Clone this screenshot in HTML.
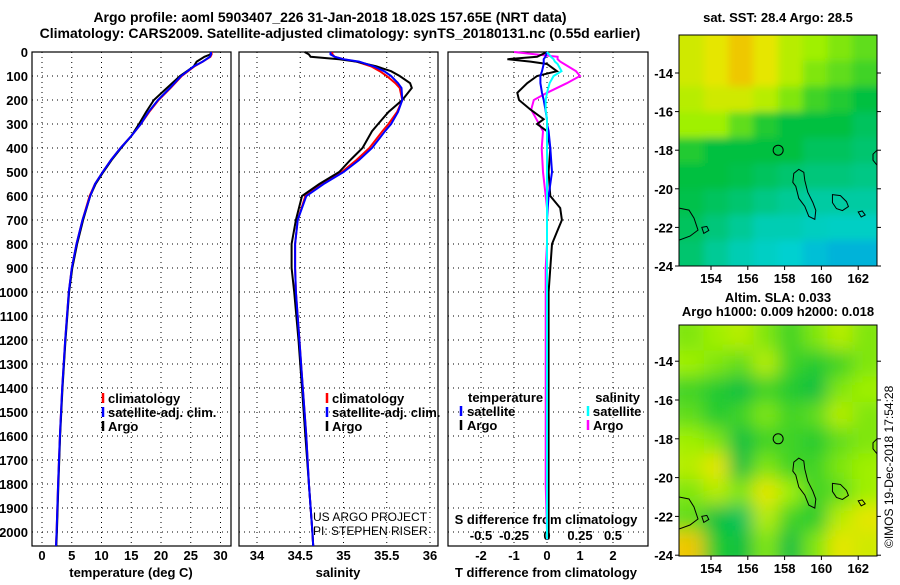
<!DOCTYPE html>
<html><head><meta charset="utf-8"><style>
body{margin:0;background:#fff}
svg text{font-family:"Liberation Sans",sans-serif;font-weight:bold;font-size:13px;fill:#000}
</style></head><body>
<svg id="c" width="900" height="580" viewBox="0 0 900 580">
<text x="330" y="22" text-anchor="middle" font-size="14" style="font-size:14px">Argo profile: aoml 5903407_226 31-Jan-2018 18.02S 157.65E (NRT data)</text>
<text x="340" y="38" text-anchor="middle" style="font-size:14px">Climatology: CARS2009. Satellite-adjusted climatology: synTS_20180131.nc (0.55d earlier)</text>
<text x="778" y="22" text-anchor="middle">sat. SST: 28.4 Argo: 28.5</text>
<text x="778" y="302" text-anchor="middle">Altim. SLA: 0.033</text>
<text x="778" y="316" text-anchor="middle">Argo h1000: 0.009 h2000: 0.018</text>
<text transform="translate(893,548) rotate(-90)" style="font-weight:normal;font-size:12px">©IMOS 19-Dec-2018 17:54:28</text>
<text x="313" y="521" style="font-weight:normal;font-size:12px">US ARGO PROJECT</text>
<text x="313" y="535" style="font-weight:normal;font-size:12px">PI: STEPHEN RISER</text>
</svg>
<script>
// ---------- data ----------
const depthTicks=[0,100,200,300,400,500,600,700,800,900,1000,1100,1200,1300,1400,1500,1600,1700,1800,1900,2000];
const tempTicks=[0,5,10,15,20,25,30];
const salTicks=[34,34.5,35,35.5,36];
const tdiffTicks=[-2,-1,0,1,2];
const sdiffTicks=[-0.5,-0.25,0,0.25,0.5];
const sdiffTickLabels=["-0.5","-0.25","0","0.25","0.5"];
const lonTicks=[154,156,158,160,162];
const lat1Ticks=[-14,-16,-18,-20,-22,-24];
const lat2Ticks=[-14,-16,-18,-20,-22,-24];

const tDepth=[0,10,20,40,60,100,150,200,250,300,350,400,450,500,550,600,700,800,900,1000,1200,1400,1600,1800,2000,2058];
const tClim=[28.5,28.5,28.3,27,25.6,23.5,21.6,19.6,18,16.6,15,13.2,11.6,10.2,8.9,8,6.8,5.8,5,4.5,3.9,3.4,3.0,2.7,2.45,2.35];
const tSat=[28.4,28.4,28.2,27,25.5,23.4,21.5,19.5,17.9,16.6,15,13.2,11.6,10.2,8.9,8.1,6.8,5.8,5,4.5,3.9,3.4,3.0,2.7,2.45,2.35];
const tArgo=[28.4,28.3,27.3,26,25.5,23.2,21,18.8,17.5,16.3,15,13.3,11.7,10.3,9,8.1,6.9,5.9,5.1,4.55,3.95,3.45,3.05,2.75,2.5,2.4];

const sDepth=[0,10,20,30,40,60,80,100,130,150,200,250,300,330,400,450,500,550,600,700,800,900,1000,1200,1400,1600,1800,2000,2058];
const sClim=[34.87,34.87,34.9,35.0,35.15,35.32,35.42,35.5,35.6,35.65,35.68,35.62,35.52,35.45,35.3,35.15,34.98,34.75,34.56,34.47,34.44,34.44,34.45,34.49,34.53,34.57,34.6,34.64,34.65];
const sSat=[34.85,34.85,34.9,35.0,35.18,35.35,35.47,35.55,35.63,35.67,35.68,35.63,35.55,35.48,35.33,35.18,35.0,34.77,34.57,34.47,34.44,34.44,34.45,34.49,34.53,34.57,34.6,34.64,34.65];
const sArgo=[34.55,34.6,34.62,34.95,35.15,35.38,35.55,35.65,35.77,35.79,35.68,35.52,35.4,35.33,35.22,35.08,34.95,34.72,34.52,34.45,34.4,34.4,34.43,34.48,34.52,34.56,34.6,34.64,34.65];

const dDepth=[0,20,30,40,50,80,100,130,170,200,240,280,300,330,400,500,600,650,700,750,800,900,1000,1200,1500,1800,2000,2030];
const dTArgo=[0,-0.3,-1.2,-0.5,0,0.3,-0.3,-0.6,-0.9,-0.85,-0.5,-0.1,-0.3,0,0.1,0.05,0.1,0.4,0.45,0.3,0.15,0.1,0.05,0.05,0.05,0.05,0.05,0.05];
const dTSat=[0,-0.05,-0.1,-0.1,-0.1,-0.15,-0.2,-0.2,-0.15,-0.1,-0.05,0,0,0.05,0.1,0.15,0.05,0.02,0,0,0,0,0,0,0,0,0,0];
const dSArgo=[-0.25,0.08,0.08,0.1,0.13,0.22,0.25,0.15,0,-0.1,-0.12,-0.08,-0.06,-0.03,-0.04,-0.03,-0.01,0,0,0,0,-0.01,-0.01,-0.01,-0.01,-0.01,0,0];
const dSSat=[0,0.03,0.05,0.06,0.08,0.11,0.05,0.02,0,-0.01,-0.01,0,0,0,0,0,0,0,0,0,0,0,0,0,0,0,0,0];

const sstGrid=[
[.85,.9,.95,.9,.8,.75,.7,.65],
[.85,.9,.95,.9,.8,.7,.65,.6],
[.8,.85,.85,.8,.7,.6,.55,.5],
[.75,.75,.65,.55,.5,.5,.5,.45],
[.55,.5,.5,.5,.5,.45,.45,.42],
[.5,.5,.48,.45,.42,.4,.4,.38],
[.48,.45,.42,.38,.35,.33,.33,.33],
[.45,.4,.35,.3,.3,.28,.27,.27],
[.42,.35,.3,.27,.25,.22,.2,.2]];
const slaGrid=[
[.7,.75,.8,.7,.6,.7,.8,.7],
[.75,.7,.65,.8,.6,.55,.6,.7],
[.6,.55,.5,.6,.55,.5,.7,.75],
[.65,.55,.6,.7,.6,.65,.8,.7],
[.75,.7,.5,.6,.6,.55,.65,.7],
[.8,.9,.5,.7,.6,.6,.7,.75],
[.7,.8,.7,.9,.75,.6,.65,.75],
[.65,.5,.45,.8,.6,.55,.8,.9],
[.95,.55,.5,.7,.5,.7,.9,.85]];

// ---------- drawing ----------
const svg=document.getElementById('c');const NS='http://www.w3.org/2000/svg';
function mk(t,a,p){const e=document.createElementNS(NS,t);for(const k in a)e.setAttribute(k,a[k]);(p||svg).appendChild(e);return e;}
const PT=52,PB=546;
const yD=d=>PT+d*0.24;
const P1={l:32,r:231,x:v=>42+v*5.95};
const P2={l:239,r:438,x:v=>257+(v-34)*86.5};
const P3={l:448,r:648,x:v=>547+v*33};
const xS=v=>547+v*132;
function grid(P,ticks,f){
  for(const d of depthTicks){const l=mk('line',{x1:P.l,x2:P.r,y1:yD(d),y2:yD(d),stroke:'#000','stroke-dasharray':'1 4'});
  }
  for(const t of ticks){const l=mk('line',{x1:f(t),x2:f(t),y1:PT,y2:PB,stroke:'#000','stroke-dasharray':'1 4'});
  }
  const r=mk('rect',{x:P.l,y:PT,width:P.r-P.l,height:PB-PT,fill:'none',stroke:'#000','stroke-width':1.2});
  
}
function line(xs,ds,f,col,w,name){const pts=xs.map((v,i)=>f(v).toFixed(1)+','+yD(ds[i]).toFixed(1)).join(' ');
  const p=mk('polyline',{points:pts,fill:'none',stroke:col,'stroke-width':w});
  }
function txt(x,y,s,anchor,name,extra){const t=mk('text',Object.assign({x:x,y:y,'text-anchor':anchor||'start'},extra||{}));t.textContent=s;
  return t;}
function legTick(x,y,col,name){const l=mk('line',{x1:x,x2:x,y1:y-10,y2:y,stroke:col,'stroke-width':2.5});
  }

grid(P1,tempTicks,P1.x);grid(P2,salTicks,P2.x);grid(P3,tdiffTicks,P3.x);
for(const d of depthTicks)txt(28,yD(d)+5,String(d),'end','depth-tick-label');
for(const t of tempTicks)txt(P1.x(t),560,String(t),'middle','temp-tick-label');
for(const t of salTicks)txt(P2.x(t),560,String(t),'middle','sal-tick-label');
for(const t of tdiffTicks)txt(P3.x(t),560,String(t),'middle','tdiff-tick-label');
sdiffTicks.forEach((t,i)=>txt(xS(t),540,sdiffTickLabels[i],'middle','sdiff-tick-label'));
txt(131,577,'temperature (deg C)','middle','temp-axis-title');
txt(338,577,'salinity','middle','sal-axis-title');
txt(546,577,'T difference from climatology','middle','tdiff-axis-title');
txt(546,524,'S difference from climatology','middle','sdiff-axis-title');

line(tClim,tDepth,P1.x,'#f00',2,'temp-climatology-line');
line(tArgo,tDepth,P1.x,'#000',2,'temp-argo-line');
line(tSat,tDepth,P1.x,'#00f',2,'temp-satellite-line');
line(sClim,sDepth,P2.x,'#f00',2,'sal-climatology-line');
line(sArgo,sDepth,P2.x,'#000',2,'sal-argo-line');
line(sSat,sDepth,P2.x,'#00f',2,'sal-satellite-line');
line(dSArgo,dDepth,xS,'#f0f',2,'sdiff-argo-line');
line(dTArgo,dDepth,P3.x,'#000',2,'tdiff-argo-line');
line(dTSat,dDepth,P3.x,'#00f',2,'tdiff-satellite-line');
line(dSSat,dDepth,xS,'#0ff',2,'sdiff-satellite-line');

[[103,'#f00','climatology'],[103,'#00f','satellite-adj. clim.'],[103,'#000','Argo']].forEach((a,i)=>{legTick(a[0],403+i*14,a[1],'legend-tick');txt(a[0]+5,403+i*14,a[2],'start','legend-entry');});
[[327,'#f00','climatology'],[327,'#00f','satellite-adj. clim.'],[327,'#000','Argo']].forEach((a,i)=>{legTick(a[0],403+i*14,a[1],'legend-tick');txt(a[0]+5,403+i*14,a[2],'start','legend-entry');});
txt(468,402,'temperature','start','legend-header-temperature');
txt(640,402,'salinity','end','legend-header-salinity');
legTick(461,416,'#00f','legend-tick');txt(467,416,'satellite','start','legend-entry');
legTick(461,430,'#000','legend-tick');txt(467,430,'Argo','start','legend-entry');
legTick(588,416,'#0ff','legend-tick');txt(593,416,'satellite','start','legend-entry');
legTick(588,430,'#f0f','legend-tick');txt(593,430,'Argo','start','legend-entry');

// maps
const stops=[[0,[0,64,255]],[.25,[0,208,208]],[.5,[0,192,64]],[.75,[160,240,0]],[.9,[230,230,0]],[1,[245,170,0]]];
function cm(v){for(let i=1;i<stops.length;i++){if(v<=stops[i][0]){const a=stops[i-1],b=stops[i],t=(v-a[0])/(b[0]-a[0]);
 return 'rgb('+a[1].map((c,j)=>Math.round(c+(b[1][j]-c)*t)).join(',')+')';}}return 'rgb(245,170,0)';}
const defs=mk('defs',{});
const f1=mk('filter',{id:'b1',x:'-5%',y:'-5%',width:'110%',height:'110%'},defs);mk('feGaussianBlur',{stdDeviation:4},f1);
const f2=mk('filter',{id:'b2',x:'-5%',y:'-5%',width:'110%',height:'110%'},defs);mk('feGaussianBlur',{stdDeviation:9},f2);
const ML=679,MR=877,lonX=v=>711+(v-154)*18.4;
function map(G,top,bot,fid,latY,name,latTicks){
  const cp=mk('clipPath',{id:'cp'+name},defs);mk('rect',{x:ML,y:top,width:MR-ML,height:bot-top},cp);
  const g=mk('g',{'clip-path':'url(#cp'+name+')'});
  const gi=mk('g',{filter:'url(#'+fid+')'},g);
  const cw=(MR-ML)/G[0].length,ch=(bot-top)/G.length;
  G.forEach((row,r)=>row.forEach((v,c)=>{const e=mk('rect',{x:ML+c*cw-(c==0?15:0),y:top+r*ch-(r==0?15:0),width:cw+1+(c==0||c==row.length-1?15:0),height:ch+1+(r==0||r==G.length-1?15:0),fill:cm(v)},gi);
   }));
  const o=latY(-18);
  const cont=[`M${lonX(158.5)},${latY(-19.2)} l5,-4 5,3 1,8 3,12 5,10 3,8 -1,9 -6,-3 -4,-10 -6,-8 -3,-12 -3,-4 z`,
   `M${lonX(160.6)},${latY(-20.3)} l8,1 6,6 2,5 -6,4 -6,-2 -4,-6 z`,`M${ML},${latY(-21)} l10,2 5,8 4,12 -8,6 -11,4`,
   `M${lonX(153.5)},${latY(-22)} l5,-1 2,4 -5,3 z`,`M${lonX(162)},${latY(-21.2)} l4,-1 3,4 -4,2 z`,`M${MR},${latY(-18)} l-4,4 0,6 4,5`];
  cont.forEach(d=>{const p=mk('path',{d:d,fill:'none',stroke:'#000','stroke-width':1},g);});
  const ci=mk('circle',{cx:lonX(157.65),cy:o,r:5,fill:'none',stroke:'#000','stroke-width':1},g);
  
  const fr=mk('rect',{x:ML,y:top,width:MR-ML,height:bot-top,fill:'none',stroke:'#000'});
  for(const t of lonTicks){mk('line',{x1:lonX(t),x2:lonX(t),y1:bot,y2:bot+4,stroke:'#000'});txt(lonX(t),bot+17,String(t),'middle','lon-tick-label');}
  for(const t of latTicks){mk('line',{x1:ML-4,x2:ML,y1:latY(t),y2:latY(t),stroke:'#000'});mk('line',{x1:MR,x2:MR+4,y1:latY(t),y2:latY(t),stroke:'#000'});txt(ML-6,latY(t)+5,String(t),'end','lat-tick-label');}
}
map(sstGrid,35,266,'b1',v=>73+(-14-v)*19.3,'sst-map',lat1Ticks);
map(slaGrid,325,556,'b2',v=>400+(-16-v)*19.4,'sla-map',lat2Ticks);
</script>
</body></html>
